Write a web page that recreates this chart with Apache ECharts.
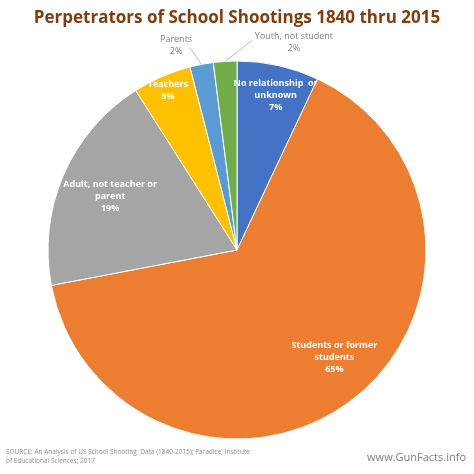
<!DOCTYPE html>
<html>
<head>
<meta charset="utf-8">
<script src="https://cdn.jsdelivr.net/npm/echarts@6/dist/echarts.min.js"></script>
<style>html,body{margin:0;padding:0;background:#fff}#main{width:474px;height:474px}</style>
</head>
<body>
<div id="main"></div>
<script>
var names = ['No relationship  or\nunknown', 'Students or former\nstudents', 'Adult, not teacher or\nparent', 'Teachers', 'Parents', 'Youth, not student'];
var values = [7, 65, 19, 5, 2, 2];
var colors = ['#4472C4', '#ED7D31', '#A5A5A5', '#FFC000', '#5B9BD5', '#70AD47'];
// label distance from centre, as a share of the radius
var labelDist = [0.84, 0.72, 0.72, 0.92, 1.1, 1.1];
// horizontal shift for labels
var sideShift = [4, 14, -2, 0, -22, 70];

var cx = 237, cy = 250, R = 189;
var total = values.reduce(function (a, b) { return a + b; }, 0);
var mids = [];
var acc = 0;
values.forEach(function (v) { mids.push((acc + v / 2) / total * Math.PI * 2); acc += v; });

function pt(i, f) {
  return [cx + Math.sin(mids[i]) * R * f, cy - Math.cos(mids[i]) * R * f];
}

var data = names.map(function (n, i) {
  var item = { name: n, value: values[i], itemStyle: { color: colors[i] } };
  if (i >= 4) {
    item.label = { position: 'outside', color: '#7f7f7f', fontWeight: 'normal' };
    item.labelLine = { show: true, lineStyle: { color: '#bfbfbf' } };
  }
  return item;
});

var chart = echarts.init(document.getElementById('main'));
chart.setOption({
  animation: false,
  title: {
    text: 'Perpetrators of School Shootings 1840 thru 2015',
    left: 'center', top: 5,
    textStyle: { color: '#843C0C', fontSize: 17, fontWeight: 'bold', fontFamily: 'Open Sans' }
  },
  graphic: [
    { type: 'text', left: 6, top: 448, style: { text: 'SOURCE: An Analysis of US School Shooting  Data (1840-2015); Paradice; Institute\nof Educational Sciences; 2017', fontSize: 6.5, fill: '#8c8c8c', fontFamily: 'Open Sans', lineHeight: 9 } },
    { type: 'text', right: 8, top: 452, style: { text: 'www.GunFacts.info', fontSize: 11, fill: '#7f7f7f', fontFamily: 'Open Sans' } }
  ],
  series: [{
    type: 'pie',
    center: [cx, cy],
    radius: R,
    startAngle: 90,
    clockwise: true,
    data: data,
    itemStyle: { borderColor: '#fff', borderWidth: 1 },
    label: {
      position: 'inside',
      overflow: 'none',
      align: 'center',
      formatter: '{b}\n{d}%',
      color: '#fff', fontSize: 9, fontWeight: 'bold', fontFamily: 'Open Sans', lineHeight: 12
    },
    labelLayout: function (p) {
      var i = p.dataIndex;
      var q = pt(i, labelDist[i]);
      var out = { x: q[0] + sideShift[i], y: q[1], align: 'center', verticalAlign: 'middle' };
      if (i >= 4) {
        var e = pt(i, 1.0);
        var end = i === 4 ? [out.x + 14, out.y + 2] : [out.x - 42, out.y - 2];
        out.labelLinePoints = [e, end, end];
      }
      return out;
    }
  }]
});
</script>
</body>
</html>
